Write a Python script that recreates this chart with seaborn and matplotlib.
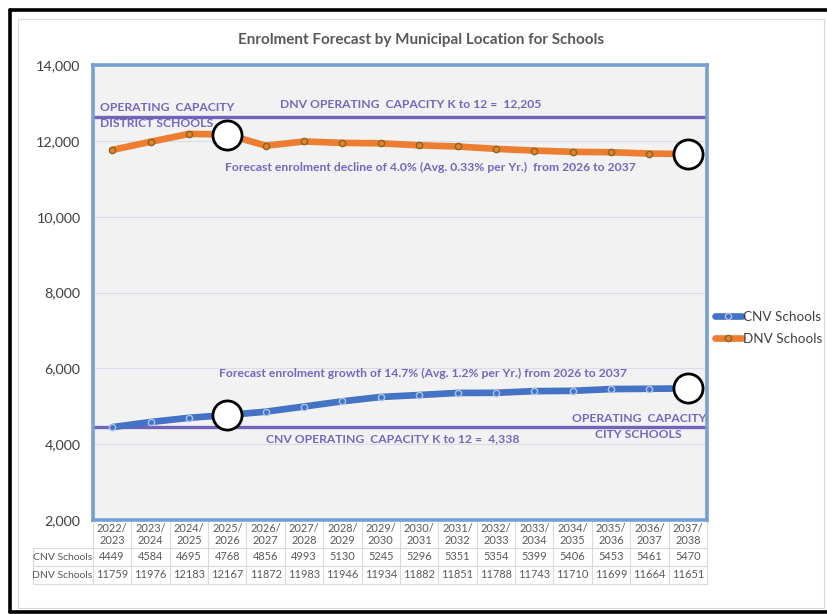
import matplotlib
matplotlib.use("Agg")
import matplotlib.pyplot as plt
from matplotlib.lines import Line2D
from matplotlib.transforms import blended_transform_factory
from matplotlib.ticker import FuncFormatter
import seaborn as sns
import pandas as pd

# ---------------- data ----------------
years = ["2022/\n2023", "2023/\n2024", "2024/\n2025", "2025/\n2026", "2026/\n2027",
         "2027/\n2028", "2028/\n2029", "2029/\n2030", "2030/\n2031", "2031/\n2032",
         "2032/\n2033", "2033/\n2034", "2034/\n2035", "2035/\n2036", "2036/\n2037",
         "2037/\n2038"]
cnv = [4449, 4584, 4695, 4768, 4856, 4993, 5130, 5245, 5296, 5351, 5354, 5399,
       5406, 5453, 5461, 5470]
dnv = [11759, 11976, 12183, 12167, 11872, 11983, 11946, 11934, 11882, 11851,
       11788, 11743, 11710, 11699, 11664, 11651]
series_names = ["CNV Schools", "DNV Schools"]
dnv_capacity = 12205
cnv_capacity = 4338
highlight_idx = [3, 15]
y_ticks = [2000, 4000, 6000, 8000, 10000, 12000, 14000]

# ---------------- style ----------------
sns.set_theme(style="white")
plt.rcParams["font.family"] = ["Lato", "DejaVu Sans"]

BLUE = "#4472C4"
ORANGE = "#ED7D31"
PURPLE_LINE = "#7262B8"
PURPLE_TXT = "#7566BE"
GREY_TXT = "#595959"
TABLE_EDGE = "#d9d9d9"

fig = plt.figure(figsize=(8.28, 6.14), dpi=100)
W, H = 828, 614

def fx(px):
    return px / W

def fy(py):
    return 1 - py / H

# frame decorations (black frame open on the right, thin grey inner frame)
for xs, ys in (([9.5, 828], [9.5, 9.5]), ([9.5, 9.5], [9.5, 612]), ([9.5, 828], [612, 612])):
    fig.add_artist(Line2D([fx(x) for x in xs], [fy(y) for y in ys],
                          transform=fig.transFigure, color="black", linewidth=2.6))
for xs, ys in (([18, 824.5], [19, 19]), ([18, 18], [19, 608]), ([18, 824.5], [608, 608]),
               ([824.5, 824.5], [19, 608])):
    fig.add_artist(Line2D([fx(x) for x in xs], [fy(y) for y in ys],
                          transform=fig.transFigure, color="#d9d9d9", linewidth=0.8))

AX_L, AX_R, AX_T, AX_B = 93, 707, 65, 520
ax = fig.add_axes([fx(AX_L), fy(AX_B), fx(AX_R) - fx(AX_L), fy(AX_T) - fy(AX_B)])
ax.set_facecolor("#f2f2f2")
AXW, AXH = AX_R - AX_L, AX_B - AX_T

df = pd.DataFrame({"Year": years * 2,
                   "Enrolment": cnv + dnv,
                   "Series": [series_names[0]] * len(years) + [series_names[1]] * len(years)})

# capacity reference lines (placed where drawn in the original)
ax.axhline(12630, color=PURPLE_LINE, linewidth=2.4, zorder=2)
ax.axhline(4450, color=PURPLE_LINE, linewidth=2.4, zorder=2)

sns.lineplot(data=df[df.Series == series_names[0]], x="Year", y="Enrolment", ax=ax,
             color=BLUE, linewidth=4.8, marker="o", markersize=4.5,
             markerfacecolor=BLUE, markeredgecolor="#a9c4ec", markeredgewidth=1.0,
             label=series_names[0], sort=False, zorder=3)
sns.lineplot(data=df[df.Series == series_names[1]], x="Year", y="Enrolment", ax=ax,
             color=ORANGE, linewidth=4.8, marker="o", markersize=4.5,
             markerfacecolor=ORANGE, markeredgecolor="#7f6a1f", markeredgewidth=1.0,
             label=series_names[1], sort=False, zorder=3)

# highlight circles
hl = pd.DataFrame({"Year": [years[i] for i in highlight_idx] * 2,
                   "Enrolment": [cnv[i] for i in highlight_idx] + [dnv[i] for i in highlight_idx]})
sns.scatterplot(data=hl, x="Year", y="Enrolment", ax=ax, s=440, color="white",
                edgecolor="black", linewidth=2.0, zorder=5, legend=False)

ax.set_xlim(-0.5, len(years) - 0.5)
ax.set_ylim(2000, 14000)
ax.set_yticks(y_ticks)
ax.yaxis.set_major_formatter(FuncFormatter(lambda v, p: f"{int(v):,}"))
ax.tick_params(axis="y", length=0, pad=9, labelsize=10.3, labelcolor="#404040")
ax.set_xticks([])
ax.set_xlabel("")
ax.set_ylabel("")
ax.grid(axis="y", color="#d5deea", linewidth=0.8)
ax.set_axisbelow(True)
for sp in ax.spines.values():
    sp.set_color("#76A0D4")
    sp.set_linewidth(2.6)
    sp.set_zorder(6)

# annotations
tkw = dict(color=PURPLE_TXT, fontweight="bold", fontsize=8.7, zorder=4)
ax.text(-0.31, 12892, "OPERATING  CAPACITY", ha="left", va="center", **tkw)
ax.text(1.15, 12470, "DISTRICT SCHOOLS", ha="center", va="center", **tkw)
ax.text(7.79, 12971, f"DNV OPERATING  CAPACITY K to 12 =  {dnv_capacity:,}",
        ha="center", va="center", **tkw)
ax.text(8.28, 11310,
        "Forecast enrolment decline of 4.0% (Avg. 0.33% per Yr.)  from 2026 to 2037",
        ha="center", va="center", **tkw)
ax.text(8.09, 5877,
        "Forecast enrolment growth of 14.7% (Avg. 1.2% per Yr.) from 2026 to 2037",
        ha="center", va="center", **tkw)
ax.text(13.72, 4690, "OPERATING  CAPACITY", ha="center", va="center", **tkw)
ax.text(13.70, 4268, "CITY SCHOOLS", ha="center", va="center", **tkw)
ax.text(7.32, 4136, f"CNV OPERATING  CAPACITY K to 12 =  {cnv_capacity:,}",
        ha="center", va="center", **tkw)

# title
fig.text(fx(421), fy(40), "Enrolment Forecast by Municipal Location for Schools",
         ha="center", va="center", fontsize=11, fontweight="bold", color=GREY_TXT)

# legend
leg = ax.legend(loc="center left", bbox_to_anchor=((715 - AX_L) / AXW, (AX_B - 328) / AXH),
                frameon=False, fontsize=9.7, handlelength=2.0, handletextpad=0.1,
                labelspacing=0.75, borderaxespad=0, borderpad=0)
for t in leg.get_texts():
    t.set_color("#404040")

# ---------------- data table under the axis ----------------
tr = blended_transform_factory(ax.transData, ax.transAxes)

def ay(py):
    return (AX_B - py) / AXH

def axx(px):
    return (px - AX_L) / AXW

y_hdr, y_r1, y_r2 = ay(534.5), ay(557), ay(575)
y_l1, y_l2, y_l3 = ay(548), ay(566), ay(584)
ttkw = dict(color=GREY_TXT, ha="center", va="center", clip_on=False)
for i, yr in enumerate(years):
    ax.text(i, y_hdr, yr, transform=tr, linespacing=1.05, fontsize=7.9, **ttkw)
    ax.text(i, y_r1, str(cnv[i]), transform=tr, fontsize=7.9, **ttkw)
    ax.text(i, y_r2, str(dnv[i]), transform=tr, fontsize=7.9, **ttkw)
lab_x = axx(62.5)
ax.text(lab_x, y_r1, series_names[0], transform=ax.transAxes, fontsize=7.5, **ttkw)
ax.text(lab_x, y_r2, series_names[1], transform=ax.transAxes, fontsize=7.5, **ttkw)

def tline(xs, ys, transform):
    ax.add_line(Line2D(xs, ys, transform=transform, color=TABLE_EDGE,
                       linewidth=0.8, clip_on=False, zorder=1))

for i in range(len(years) + 1):
    tline([i - 0.5, i - 0.5], [0, y_l3], tr)
for yl in (y_l1, y_l2, y_l3):
    tline([axx(33), 1], [yl, yl], ax.transAxes)
tline([axx(33), axx(33)], [y_l1, y_l3], ax.transAxes)

fig.savefig("out.png", dpi=100)
